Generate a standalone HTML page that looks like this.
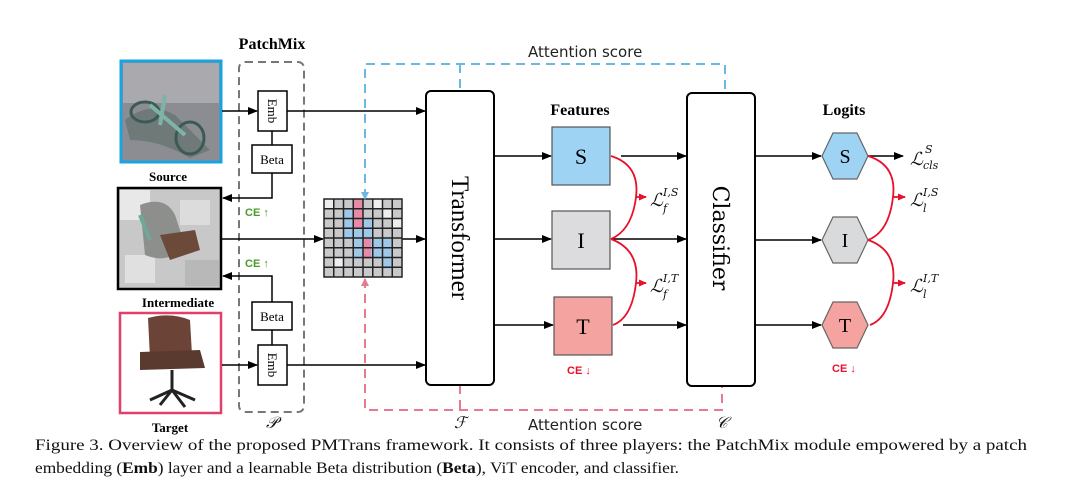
<!DOCTYPE html>
<html><head><meta charset="utf-8"><style>
html,body{margin:0;padding:0;background:#fff;}
svg{display:block;}
.s{font-family:"Liberation Serif",serif;}
</style></head><body>
<svg width="1080" height="486" viewBox="0 0 1080 486" xmlns="http://www.w3.org/2000/svg">
<defs>
<marker id="a" markerWidth="10" markerHeight="8" refX="9" refY="4" orient="auto" markerUnits="userSpaceOnUse"><path d="M0,0 L10,4 L0,8 z" fill="#000"/></marker>
<marker id="r" markerWidth="8" markerHeight="7" refX="7" refY="3.5" orient="auto" markerUnits="userSpaceOnUse"><path d="M0,0 L8,3.5 L0,7 z" fill="#e8102a"/></marker>
<marker id="bd" markerWidth="7" markerHeight="6" refX="6" refY="3" orient="auto" markerUnits="userSpaceOnUse"><path d="M0,0 L7,3 L0,6 z" fill="#6bb8e0"/></marker>
</defs>

<!-- images -->
<rect x="121" y="61" width="100" height="101" fill="#8c8d93" stroke="#1aa3e0" stroke-width="3"/>
<rect x="123" y="63" width="96" height="40" fill="#a9a9ae"/>
<path d="M125 120 Q150 100 175 115 L210 150 L190 158 Q160 140 130 140 z" fill="#6f7a78"/>
<ellipse cx="145" cy="112" rx="14" ry="10" fill="none" stroke="#3c5a55" stroke-width="3"/>
<ellipse cx="190" cy="138" rx="14" ry="16" fill="none" stroke="#3c5a55" stroke-width="3"/>
<path d="M150 105 L185 135 M165 95 L160 125" stroke="#7fb3a8" stroke-width="4"/>

<rect x="118" y="188" width="103" height="101" fill="#c8c8c8" stroke="#000" stroke-width="2.5"/>
<rect x="120" y="190" width="30" height="30" fill="#e8e8e8"/><rect x="180" y="200" width="30" height="25" fill="#dcdcdc"/>
<rect x="125" y="255" width="30" height="28" fill="#e0e0e0"/><rect x="185" y="260" width="34" height="26" fill="#b8b8b8"/>
<path d="M140 205 Q165 195 175 215 L185 245 Q170 265 145 255 z" fill="#8d8f8c"/>
<path d="M160 235 L195 230 L200 250 L170 260 z" fill="#6b4a3a"/>
<path d="M140 215 L150 240" stroke="#6fa89b" stroke-width="4"/>

<rect x="120" y="313" width="101" height="100" fill="#fff" stroke="#e0406a" stroke-width="2.5"/>
<path d="M148 318 Q170 312 190 320 L192 355 L150 358 z" fill="#6b4437"/>
<path d="M140 352 L200 350 L205 368 L140 370 z" fill="#5a3a2f"/>
<path d="M172 370 L172 390 M150 400 L172 390 L195 400 M160 405 L172 390 L185 407" stroke="#222" stroke-width="3" fill="none"/>

<g font-family="'Liberation Serif',serif" font-weight="bold" font-size="13" text-anchor="middle">
<text x="168" y="181">Source</text>
<text x="178" y="307">Intermediate</text>
<text x="170" y="432">Target</text>
<text x="272" y="49" font-size="16">PatchMix</text>
<text x="580" y="115" font-size="16">Features</text>
<text x="844" y="115" font-size="16">Logits</text>
</g>

<!-- patchmix -->
<rect x="239" y="62" width="65" height="350" rx="6" fill="none" stroke="#777" stroke-width="2" stroke-dasharray="8,5"/>
<g fill="#fff" stroke="#000" stroke-width="1.5">
<rect x="258" y="91" width="29" height="40"/>
<rect x="252" y="145" width="40" height="28"/>
<rect x="252" y="302" width="40" height="28"/>
<rect x="258" y="345" width="29" height="40"/>
</g>
<g class="s" font-size="13" text-anchor="middle">
<text x="272" y="164">Beta</text>
<text x="272" y="321">Beta</text>
<text transform="translate(268,111) rotate(90)" x="0" y="0">Emb</text>
<text transform="translate(268,365) rotate(90)" x="0" y="0">Emb</text>
</g>
<g stroke="#000" stroke-width="1.5" fill="none">
<line x1="272" y1="131" x2="272" y2="145"/>
<line x1="272" y1="330" x2="272" y2="345"/>
<path d="M272 173 L272 198 L223 198" marker-end="url(#a)"/>
<path d="M272 302 L272 276 L223 276" marker-end="url(#a)"/>
<line x1="222" y1="111" x2="257" y2="111" marker-end="url(#a)"/>
<line x1="222" y1="365" x2="257" y2="365" marker-end="url(#a)"/>
<line x1="287" y1="111" x2="425" y2="111" marker-end="url(#a)"/>
<line x1="287" y1="365" x2="425" y2="365" marker-end="url(#a)"/>
<line x1="222" y1="239" x2="323" y2="239" marker-end="url(#a)"/>
<line x1="402" y1="239" x2="425" y2="239" marker-end="url(#a)"/>
</g>
<g font-family="'Liberation Sans',sans-serif" font-weight="bold" font-size="11" fill="#4a9a2a">
<text x="245" y="216">CE ↑</text><text x="245" y="267">CE ↑</text>
</g>

<!-- grid -->
<rect x="324" y="199" width="78" height="78" fill="#c9c9cc"/>
<g fill="#9fc7e8">
<rect x="343" y="209" width="10" height="30"/><rect x="353" y="219" width="20" height="40"/><rect x="363" y="239" width="30" height="20"/><rect x="383" y="249" width="10" height="20"/>
</g>
<g fill="#e88aa5"><rect x="353" y="199" width="10" height="30"/><rect x="363" y="239" width="8" height="20"/></g>
<g fill="#eee"><rect x="324" y="199" width="10" height="10"/><rect x="383" y="209" width="10" height="10"/><rect x="334" y="258" width="10" height="10"/><rect x="392" y="219" width="10" height="10"/><rect x="373" y="199" width="10" height="10"/></g>
<g stroke="#222" stroke-width="1.5" fill="none">
<rect x="324" y="199" width="78" height="78"/>
<path d="M333.75 199V277M343.5 199V277M353.25 199V277M363 199V277M372.75 199V277M382.5 199V277M392.25 199V277M324 208.75H402M324 218.5H402M324 228.25H402M324 238H402M324 247.75H402M324 257.5H402M324 267.25H402"/>
</g>

<!-- dashed attention -->
<g fill="none" stroke-width="2" stroke-dasharray="9,6">
<path d="M365 198 L365 64 L725 64 L725 92" stroke="#6bb8e0"/>
<line x1="460" y1="64" x2="460" y2="91" stroke="#6bb8e0"/>
<path d="M365 279 L365 410 L722 410 L722 386" stroke="#e77a8e"/>
<line x1="460" y1="385" x2="460" y2="410" stroke="#e77a8e"/>
</g>
<path d="M361 286 L365 278 L369 286 z" fill="#e77a8e"/>
<path d="M361 192 L365 200 L369 192 z" fill="#6bb8e0"/>
<g font-family="'DejaVu Sans',sans-serif" font-size="15" fill="#222">
<text x="528" y="57">Attention score</text>
<text x="528" y="430">Attention score</text>
</g>

<!-- transformer & classifier -->
<rect x="426" y="91" width="68" height="294" rx="5" fill="#fff" stroke="#000" stroke-width="2"/>
<text class="s" font-size="25" text-anchor="middle" transform="translate(452,238) rotate(90)">Transformer</text>
<rect x="687" y="93" width="68" height="293" rx="5" fill="#fff" stroke="#000" stroke-width="2"/>
<text font-family="'DejaVu Serif',serif" font-size="22" text-anchor="middle" transform="translate(713,238) rotate(90)">Classifier</text>

<g stroke="#000" stroke-width="1.5" fill="none">
<line x1="494" y1="156" x2="551" y2="156" marker-end="url(#a)"/>
<line x1="494" y1="239" x2="551" y2="239" marker-end="url(#a)"/>
<line x1="494" y1="325" x2="553" y2="325" marker-end="url(#a)"/>
<line x1="621" y1="156" x2="686" y2="156" marker-end="url(#a)"/>
<line x1="611" y1="239" x2="686" y2="239" marker-end="url(#a)"/>
<line x1="623" y1="325" x2="686" y2="325" marker-end="url(#a)"/>
<line x1="755" y1="156" x2="821" y2="156" marker-end="url(#a)"/>
<line x1="755" y1="240" x2="821" y2="240" marker-end="url(#a)"/>
<line x1="755" y1="325" x2="821" y2="325" marker-end="url(#a)"/>
<line x1="868" y1="156" x2="903" y2="156" marker-end="url(#a)"/>
</g>

<!-- features -->
<rect x="552" y="127" width="58" height="58" fill="#9fd3f3" stroke="#555" stroke-width="1.2"/>
<rect x="552" y="211" width="58" height="58" fill="#dcdcdf" stroke="#555" stroke-width="1.2"/>
<rect x="554" y="297" width="58" height="58" fill="#f4a3a0" stroke="#555" stroke-width="1.2"/>
<g class="s" font-size="22" text-anchor="middle">
<text x="581" y="164">S</text><text x="581" y="248">I</text><text x="583" y="334">T</text>
</g>
<!-- hexagons -->
<g stroke="#666" stroke-width="1.2">
<path d="M822 156 L833 133 L857 133 L868 156 L857 179 L833 179 z" fill="#9fd3f3"/>
<path d="M822 240 L833 217 L857 217 L868 240 L857 263 L833 263 z" fill="#d8dadc"/>
<path d="M822 325 L833 302 L857 302 L868 325 L857 348 L833 348 z" fill="#f4a3a0"/>
</g>
<g class="s" font-size="20" text-anchor="middle">
<text x="845" y="163">S</text><text x="845" y="247">I</text><text x="845" y="332">T</text>
</g>

<!-- red curves -->
<g stroke="#e8102a" stroke-width="1.8" fill="none">
<path d="M611 156 Q640 165 636 197 Q632 230 611 239"/>
<path d="M611 239 Q640 250 636 283 Q632 318 613 325"/>
<path d="M868 156 Q897 165 893 197 Q889 232 868 240"/>
<path d="M868 240 Q897 250 893 283 Q889 318 870 325"/>
<line x1="636" y1="197" x2="646" y2="197" marker-end="url(#r)"/>
<line x1="636" y1="283" x2="646" y2="283" marker-end="url(#r)"/>
<line x1="893" y1="197" x2="905" y2="197" marker-end="url(#r)"/>
<line x1="893" y1="283" x2="905" y2="283" marker-end="url(#r)"/>
</g>
<g font-family="'Liberation Sans',sans-serif" font-weight="bold" font-size="11" fill="#e8102a">
<text x="567" y="374">CE ↓</text><text x="832" y="372">CE ↓</text>
</g>

<!-- loss labels -->
<g font-family="'DejaVu Serif',serif" font-style="italic" fill="#111">
<text x="650" y="206" font-size="18">ℒ</text><text x="663" y="196" font-size="11">I,S</text><text x="663" y="212" font-size="11">f</text>
<text x="650" y="292" font-size="18">ℒ</text><text x="663" y="282" font-size="11">I,T</text><text x="663" y="298" font-size="11">f</text>
<text x="910" y="165" font-size="18">ℒ</text><text x="925" y="153" font-size="11">S</text><text x="923" y="169" font-size="11">cls</text>
<text x="910" y="206" font-size="18">ℒ</text><text x="923" y="196" font-size="11">I,S</text><text x="923" y="212" font-size="11">l</text>
<text x="910" y="292" font-size="18">ℒ</text><text x="923" y="282" font-size="11">I,T</text><text x="923" y="298" font-size="11">l</text>
<text x="266" y="428" font-size="16">𝒫</text><text x="454" y="428" font-size="16">ℱ</text><text x="716" y="428" font-size="16">𝒞</text>
</g>

<!-- caption -->
<g font-family="'Liberation Serif',serif" font-size="16" fill="#111">
<text x="35" y="450" textLength="992" lengthAdjust="spacingAndGlyphs">Figure 3.  Overview of the proposed PMTrans framework.  It consists of three players:  the PatchMix module empowered by a patch</text>
<text x="35" y="473" textLength="644" lengthAdjust="spacingAndGlyphs">embedding (<tspan font-weight="bold">Emb</tspan>) layer and a learnable Beta distribution (<tspan font-weight="bold">Beta</tspan>), ViT encoder, and classifier.</text>
</g>
</svg>
</body></html>
